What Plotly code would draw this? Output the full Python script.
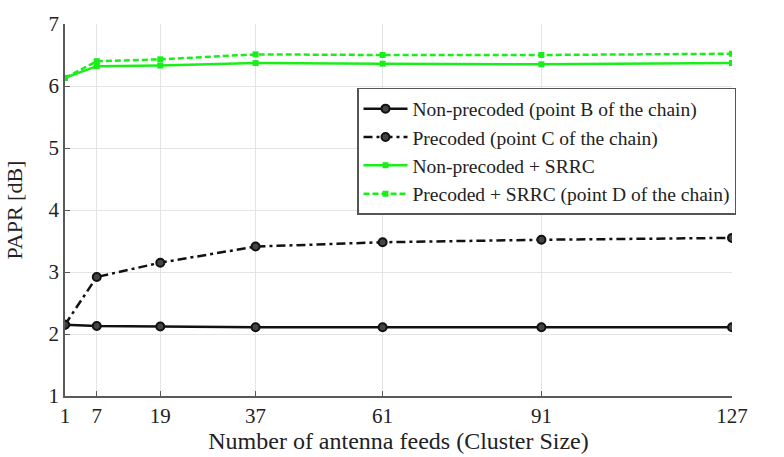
import plotly.graph_objects as go

# Cluster sizes (number of antenna feeds)
cluster_sizes = [1, 7, 19, 37, 61, 91, 127]

# PAPR values in dB
papr_nonprecoded = [2.15, 2.13, 2.12, 2.11, 2.11, 2.11, 2.11]
papr_precoded = [2.15, 2.92, 3.15, 3.41, 3.48, 3.52, 3.55]
papr_nonprecoded_srrc = [6.13, 6.32, 6.33, 6.37, 6.36, 6.35, 6.37]
papr_precoded_srrc = [6.13, 6.40, 6.43, 6.51, 6.50, 6.50, 6.52]

series_names = [
    "Non-precoded (point B of the chain)",
    "Precoded (point C of the chain)",
    "Non-precoded + SRRC",
    "Precoded + SRRC (point D of the chain)",
]

y_ticks = [1, 2, 3, 4, 5, 6, 7]

FONT = "'Liberation Serif', serif"
BLACK = "#111111"
GREEN = "#1aee1a"

fig = go.Figure()

fig.add_trace(go.Scatter(
    x=cluster_sizes, y=papr_nonprecoded, name=series_names[0],
    mode="lines+markers",
    line=dict(color=BLACK, width=2.5, dash="solid"),
    marker=dict(symbol="circle", size=8, color="#444444",
                line=dict(color=BLACK, width=2)),
))
fig.add_trace(go.Scatter(
    x=cluster_sizes, y=papr_precoded, name=series_names[1],
    mode="lines+markers",
    line=dict(color=BLACK, width=2.5, dash="9px,4px,3px,4px"),
    marker=dict(symbol="circle", size=8, color="#444444",
                line=dict(color=BLACK, width=2)),
))
fig.add_trace(go.Scatter(
    x=cluster_sizes, y=papr_nonprecoded_srrc, name=series_names[2],
    mode="lines+markers",
    line=dict(color=GREEN, width=2.5, dash="solid"),
    marker=dict(symbol="square", size=6, color=GREEN),
))
fig.add_trace(go.Scatter(
    x=cluster_sizes, y=papr_precoded_srrc, name=series_names[3],
    mode="lines+markers",
    line=dict(color=GREEN, width=2.5, dash="6px,3px"),
    marker=dict(symbol="square", size=6, color=GREEN),
))

axis_common = dict(
    showgrid=True, gridcolor="#e4e4e4", gridwidth=1,
    showline=True, linecolor="#5a5a5a", linewidth=1.5,
    ticks="inside", ticklen=5, tickcolor="#5a5a5a",
    tickfont=dict(family=FONT, size=21, color="#222222"),
    zeroline=False, mirror=False,
)

fig.update_layout(
    width=784, height=457,
    margin=dict(l=65, r=52, t=18, b=61),
    paper_bgcolor="white", plot_bgcolor="white",
    font=dict(family=FONT, color="#222222"),
    xaxis=dict(
        range=[1, 127], tickvals=cluster_sizes,
        ticktext=[str(c) for c in cluster_sizes],
        title=dict(text="Number of antenna feeds (Cluster Size)",
                   font=dict(family=FONT, size=24), standoff=0),
        **axis_common,
    ),
    yaxis=dict(
        range=[1, 7], tickvals=y_ticks,
        title=dict(text="PAPR [dB]", font=dict(family=FONT, size=22),
                   standoff=20),
        **axis_common,
    ),
    legend=dict(
        x=(357 - 65) / (784 - 65 - 52), y=(396 - 83) / (396 - 18),
        xanchor="left", yanchor="top",
        xref="paper", yref="paper",
        bgcolor="white", bordercolor="#555555", borderwidth=1.5,
        font=dict(family=FONT, size=19.5, color="#222222"),
        tracegroupgap=0, itemwidth=44,
    ),
    showlegend=True,
)

fig.write_html("out.html")
